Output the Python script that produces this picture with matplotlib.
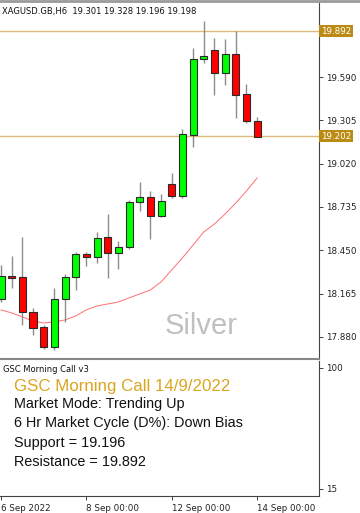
import matplotlib
matplotlib.use('Agg')
import matplotlib.pyplot as plt
import numpy as np
from matplotlib.patches import Rectangle

# H6 candles, 6 Sep 00:00 .. 14 Sep 00:00
opens = [18.130, 18.281, 18.275, 18.044, 17.946, 17.814, 18.130, 18.275, 18.426, 18.406,
         18.538, 18.432, 18.472, 18.768, 18.801, 18.676, 18.886, 18.807, 19.209, 19.708,
         19.768, 19.616, 19.741, 19.478, 19.301]
highs = [18.354, 18.413, 18.538, 18.071, 17.959, 18.202, 18.294, 18.439, 18.439, 18.571,
         18.689, 18.511, 18.781, 18.899, 18.840, 18.820, 18.959, 19.248, 19.781, 19.958,
         19.846, 19.840, 19.892, 19.544, 19.328]
lows = [18.110, 18.202, 17.959, 17.893, 17.801, 17.795, 17.979, 18.189, 18.347, 18.367,
        18.268, 18.327, 18.459, 18.709, 18.525, 18.669, 18.794, 18.794, 19.130, 19.682,
        19.472, 19.537, 19.320, 19.287, 19.196]
closes = [18.281, 18.268, 18.044, 17.939, 17.814, 18.130, 18.275, 18.426, 18.406, 18.531,
          18.432, 18.472, 18.768, 18.801, 18.676, 18.774, 18.807, 19.215, 19.708, 19.728,
          19.616, 19.741, 19.472, 19.301, 19.198]
ma = [18.058, 18.038, 18.012, 17.985, 17.972, 17.979, 17.992, 18.018, 18.058, 18.084,
      18.097, 18.110, 18.137, 18.163, 18.189, 18.242, 18.321, 18.400, 18.485, 18.571,
      18.623, 18.689, 18.761, 18.840, 18.926]

resistance = 19.892
support_line = 19.202
price_ticks = [19.590, 19.305, 19.020, 18.735, 18.450, 18.165, 17.880]
date_pos = [0, 8, 16, 24]
date_labels = ['6 Sep 2022', '8 Sep 00:00', '12 Sep 00:00', '14 Sep 00:00']
header = 'XAGUSD.GB,H6  19.301 19.328 19.196 19.198'
panel_lines = ['Market Mode: Trending Up', '6 Hr Market Cycle (D%): Down Bias',
               'Support = 19.196', 'Resistance = 19.892']

W, H = 360, 513
fig = plt.figure(figsize=(W / 100, H / 100), dpi=100)
fig.patch.set_facecolor('white')


def box(x0, y0, x1, y1):
    # pixel box (top-left origin) -> figure fraction rect
    return [x0 / W, 1 - y1 / H, (x1 - x0) / W, (y1 - y0) / H]


def fy(y):
    return 1 - y / H


ax = fig.add_axes(box(0, 3, 319, 359))
ax2 = fig.add_axes(box(0, 361, 319, 496))

# candles
x = np.arange(len(opens))
for i in x:
    o, h, l, c = opens[i], highs[i], lows[i], closes[i]
    col = '#00ff00' if c >= o else '#ff0000'
    ax.vlines(i, l, h, color='#8c8c8c', lw=1, zorder=2)
    ax.add_patch(Rectangle((i - 0.33, min(o, c)), 0.66, max(abs(c - o), 0.012),
                           facecolor=col, edgecolor='#2a2a2a', lw=0.8, zorder=3))
ax.plot(x, ma, color='#ff6f6f', lw=0.7, zorder=1)

ax.axhline(resistance, color='#dcbc78', lw=1, zorder=1)
ax.axhline(support_line, color='#dcbc78', lw=1, zorder=1)

ax.set_xlim(-0.094, 29.8)
ax.set_ylim(17.735, 20.077)

ax.yaxis.tick_right()
ax.set_yticks(price_ticks)
ax.set_yticklabels([f'{t:.3f}' for t in price_ticks])
ax.tick_params(axis='y', length=3, pad=2, labelsize=6.3, colors='#222222', width=0.6)
ax.set_xticks([])
for s in ['top', 'left']:
    ax.spines[s].set_visible(False)
ax.spines['right'].set_color('#444444')
ax.spines['bottom'].set_color('#888888')
ax.spines['bottom'].set_linewidth(1.5)

# price labels on axis
for val in [resistance, support_line]:
    ax.text(1.005, val, f'{val:.3f}', transform=ax.get_yaxis_transform(),
            ha='left', va='center', fontsize=6.3, color='white', zorder=5,
            bbox=dict(boxstyle='square,pad=0.2', fc='#bb8b14', ec='none'), clip_on=False)

ax.text(0.006, 0.975, header, transform=ax.transAxes, ha='left', va='center',
        fontsize=6.0, color='#111111')
fig.text(201 / W, fy(326), 'Silver', ha='center', va='center', fontsize=21,
         color='#c0c0c0', family='Liberation Sans')

# indicator panel
ax2.set_xlim(-0.094, 29.8)
ax2.set_ylim(10.08, 104.9)
ax2.yaxis.tick_right()
ax2.set_yticks([100, 15])
ax2.tick_params(axis='y', length=3, pad=2, labelsize=6.3, colors='#222222', width=0.6)
ax2.set_xticks(date_pos)
ax2.set_xticklabels(date_labels, ha='left')
ax2.tick_params(axis='x', length=3, pad=3, labelsize=6.3, colors='#222222', width=0.6)
for s in ['top', 'left']:
    ax2.spines[s].set_visible(False)
ax2.spines['right'].set_color('#444444')
ax2.spines['bottom'].set_color('#444444')

fig.text(3 / W, fy(369), 'GSC Morning Call v3', ha='left', va='center', fontsize=6.0,
         color='#111111')
fig.text(14 / W, fy(386), 'GSC Morning Call 14/9/2022', ha='left', va='center',
         fontsize=12.2, color='#daa520', family='Liberation Sans')
for k, line in enumerate(panel_lines):
    fig.text(14 / W, fy(404 + 19.5 * k), line, ha='left', va='center', fontsize=10.4,
             color='#111111', family='Liberation Sans')

# top gray bar
fig.add_artist(plt.Line2D([0, 1], [fy(1), fy(1)], color='#9a9a9a', lw=2))

fig.savefig('out.png', dpi=100)
